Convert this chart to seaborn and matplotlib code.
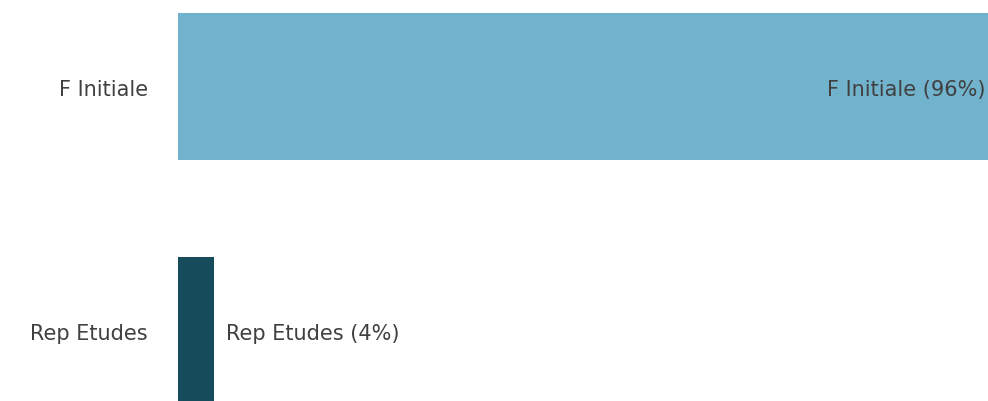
import matplotlib
matplotlib.use("Agg")
import matplotlib.pyplot as plt
import seaborn as sns
import pandas as pd

categories = ["F Initiale", "Rep Etudes"]
values = [95.7, 4.3]
pct_labels = ["96%", "4%"]
colors = ["#71B2CC", "#154B5B"]

sns.set_theme(style="white")
plt.rcParams['font.family'] = ['DejaVu Sans']

df = pd.DataFrame({"cat": categories, "val": values})

fig = plt.figure(figsize=(9.88, 4.02), dpi=100)
ax = fig.add_axes([178/988, 0, 1 - 178/988, 1])
sns.barplot(data=df, x="val", y="cat", hue="cat", palette=colors, orient="h",
            width=0.603, legend=False, ax=ax, saturation=1, linewidth=0)

ax.set_xlim(0, max(values))
ax.set_ylim(1.287, -0.359)
ax.set_xlabel("")
ax.set_ylabel("")
ax.set_xticks([])
for s in ax.spines.values():
    s.set_visible(False)
FS = 15
ax.tick_params(axis="y", length=0, pad=21.6, labelsize=FS, labelcolor="#404040")

for i, (c, v, p) in enumerate(zip(categories, values, pct_labels)):
    txt = f"{c} ({p})"
    if v > max(values) * 0.5:
        ax.annotate(txt, xy=(v, i), xytext=(-2, -1.5), textcoords="offset points",
                    ha="right", va="center", fontsize=FS, color="#404040")
    else:
        ax.annotate(txt, xy=(v, i), xytext=(8, -1.5), textcoords="offset points",
                    ha="left", va="center", fontsize=FS, color="#404040")

fig.savefig("out.png", dpi=100)
